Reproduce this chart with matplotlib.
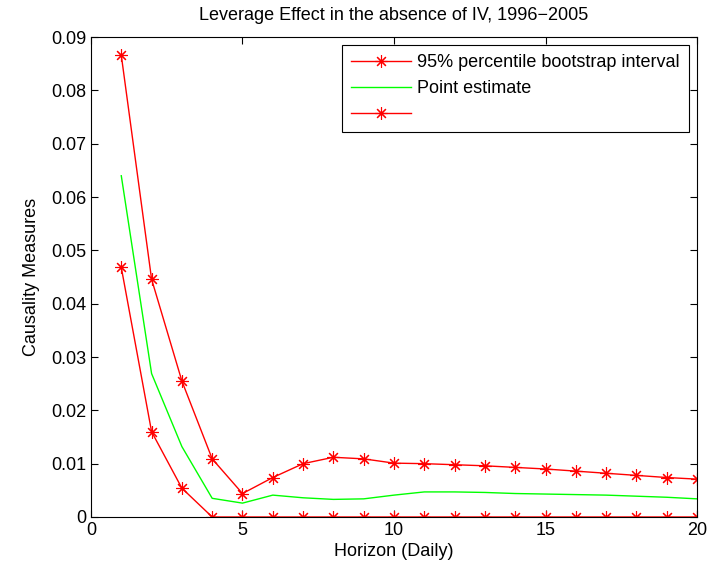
import numpy as np
import matplotlib
matplotlib.use('Agg')
import matplotlib.pyplot as plt

plt.rcParams['font.family'] = ['Liberation Sans', 'DejaVu Sans']

# horizon and series
horizon = np.arange(1, 21)
upper = [0.0866, 0.0446, 0.0255, 0.0109, 0.0044, 0.0074, 0.0100, 0.0112, 0.0109, 0.0101,
         0.0100, 0.0098, 0.0096, 0.0093, 0.0090, 0.0086, 0.0082, 0.0078, 0.0074, 0.0071]
point = [0.0640, 0.0269, 0.0132, 0.0035, 0.0026, 0.0041, 0.0036, 0.0033, 0.0034, 0.0041,
         0.0047, 0.0047, 0.0046, 0.0044, 0.0043, 0.0042, 0.0041, 0.0039, 0.0037, 0.0034]
lower = [0.0468, 0.0160, 0.0054, 0, 0, 0, 0, 0, 0, 0,
         0, 0, 0, 0, 0, 0, 0, 0, 0, 0]

fs = 13

fig = plt.figure(figsize=(7.13, 5.71), dpi=100)
ax = fig.add_axes([0.1276, 0.0946, 0.85, 0.8404])

ast = (8, 2, 0)
h1, = ax.plot(horizon, upper, color='red', lw=1, marker=ast, markersize=9, markeredgewidth=0.8)
h2, = ax.plot(horizon, point, color='#00ff00', lw=1)
h3, = ax.plot(horizon, lower, color='red', lw=1, marker=ast, markersize=9, markeredgewidth=0.8)

ax.set_xlim(0, 20)
ax.set_ylim(0, 0.09)
ax.set_xticks([0, 5, 10, 15, 20])
ax.set_yticks(np.arange(0, 0.091, 0.01))
ax.set_yticklabels(['0'] + ['%.2f' % v for v in np.arange(0.01, 0.091, 0.01)])
ax.tick_params(direction='in', top=True, right=True, labelsize=fs, length=5)

ax.set_xlabel('Horizon (Daily)', fontsize=fs, labelpad=3)
ax.set_ylabel('Causality Measures', fontsize=fs, labelpad=8)
ax.set_title('Leverage Effect in the absence of IV, 1996\u22122005', fontsize=fs, pad=12)

leg = ax.legend([h1, h2, h3], ['95% percentile bootstrap interval', 'Point estimate', ' '],
                loc='upper right', fontsize=fs, fancybox=False, framealpha=1,
                edgecolor='black', borderaxespad=0.45, handlelength=3.3,
                handletextpad=0.35, labelspacing=0.5, borderpad=0.5)
leg.get_frame().set_linewidth(0.8)

plt.savefig('out.png', dpi=100)
plt.close()
